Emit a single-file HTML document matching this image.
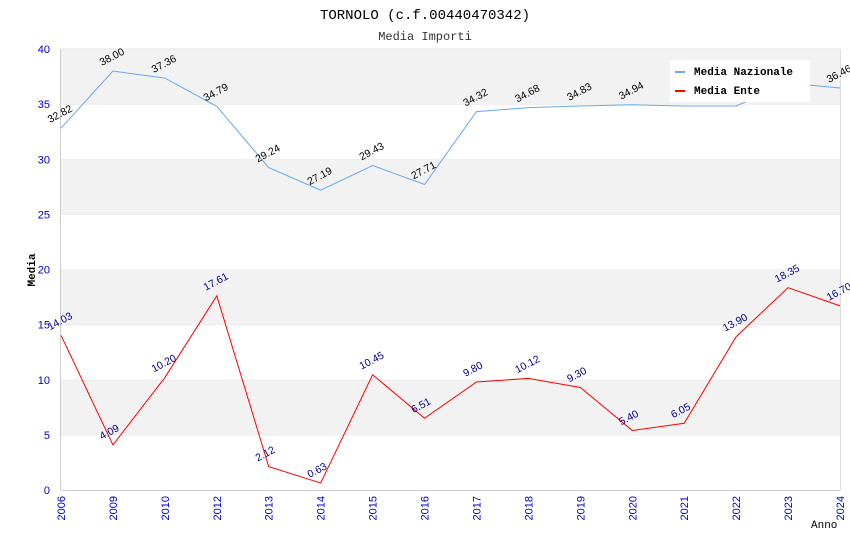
<!DOCTYPE html>
<html><head><meta charset="utf-8"><style>
body{margin:0;background:#fff}
svg text{font-family:"Liberation Sans",sans-serif}
.mono{font-family:"Liberation Mono",monospace}
</style></head><body>
<svg id="c" width="850" height="550" xmlns="http://www.w3.org/2000/svg">
<text class="mono" x="425" y="19" text-anchor="middle" font-size="14" fill="#000">TORNOLO (c.f.00440470342)</text>
<text class="mono" x="425" y="40" text-anchor="middle" font-size="12" fill="#333">Media Importi</text>
<g id="bands"></g><g id="axes"></g><g id="series"></g>
<text class="mono" x="35" y="270" transform="rotate(-90 35 270)" text-anchor="middle" font-size="11" font-weight="bold">Media</text>
<text class="mono" x="811" y="528" font-size="11">Anno</text>
<g>
<rect x="670" y="60" width="140" height="42" fill="#fff"/>
<rect x="675" y="71" width="10" height="2" fill="#66aaee"/>
<text class="mono" x="694" y="75" font-size="11" font-weight="bold">Media Nazionale</text>
<rect x="675" y="90" width="10" height="2" fill="#ff0000"/>
<text class="mono" x="694" y="94" font-size="11" font-weight="bold">Media Ente</text>
</g>
</svg>
<script>
const categories=["2006","2009","2010","2012","2013","2014","2015","2016","2017","2018","2019","2020","2021","2022","2023","2024"];
const nazionale=[32.82,38.00,37.36,34.79,29.24,27.19,29.43,27.71,34.32,34.68,34.83,34.94,34.83,34.83,36.90,36.46];
const nazionaleLabels=["32.82","38.00","37.36","34.79","29.24","27.19","29.43","27.71","34.32","34.68","34.83","34.94","","","","36.46"];
const ente=[14.03,4.09,10.20,17.61,2.12,0.63,10.45,6.51,9.80,10.12,9.30,5.40,6.05,13.90,18.35,16.70];
const yTicks=[0,5,10,15,20,25,30,35,40];
const NS="http://www.w3.org/2000/svg";
const L=61,R=840,T=49,B=490,yMax=40;
const x=i=>L+i*(R-L)/(categories.length-1);
const y=v=>B-v*(B-T)/yMax;
function mk(tag,attrs,parent,txt){const e=document.createElementNS(NS,tag);for(const k in attrs)e.setAttribute(k,attrs[k]);if(txt!==undefined)e.textContent=txt;parent.appendChild(e);return e;}
const bands=document.getElementById('bands'),axes=document.getElementById('axes'),series=document.getElementById('series');
for(let i=0;i<yTicks.length-1;i++){
  const a=yTicks[i],b=yTicks[i+1];
  const r=mk('rect',{x:L,y:y(b),width:R-L,height:y(a)-y(b),fill:(i%2)?'#f2f2f2':'#fff'},bands);
  
  
  const g=mk('line',{x1:L,x2:R,y1:y(b),y2:y(b),stroke:'#e4e4e4'},bands);
  
  
}
mk('line',{x1:L-0.5,x2:L-0.5,y1:T,y2:B,stroke:'#ccc'},axes);
mk('line',{x1:R+0.5,x2:R+0.5,y1:T,y2:B,stroke:'#ddd'},axes);
mk('line',{x1:L,x2:R,y1:B+0.5,y2:B+0.5,stroke:'#ccc'},axes);
yTicks.forEach(v=>{
  const t=mk('text',{x:L-11,y:y(v)+4,'text-anchor':'end','font-size':11,fill:'#0000cc'},axes,String(v));
  
  
});
categories.forEach((c,i)=>{
  const xx=x(i)+4,yy=496;
  const t=mk('text',{x:xx,y:yy,'text-anchor':'end','font-size':11,fill:'#0000cc',transform:`rotate(-90 ${xx} ${yy})`},axes,c);
  
  
});
function draw(vals,labels,color,lblColor,name){
  const p=mk('polyline',{points:vals.map((v,i)=>x(i)+','+y(v)).join(' '),fill:'none',stroke:color,'stroke-width':1},series);
  
  
  vals.forEach((v,i)=>{
    const s=labels[i];if(!s)return;
    const xx=x(i)-11,yy=y(v)-5;
    const t=mk('text',{x:xx,y:yy,'font-size':10.5,fill:lblColor,transform:`rotate(-28 ${xx} ${yy})`},series,s);
    
    
  });
}
draw(nazionale,nazionaleLabels,'#66aaee','#000','nazionale');
draw(ente,ente.map(v=>v.toFixed(2)),'#ff0000','#000088','ente');
</script>
</body></html>
